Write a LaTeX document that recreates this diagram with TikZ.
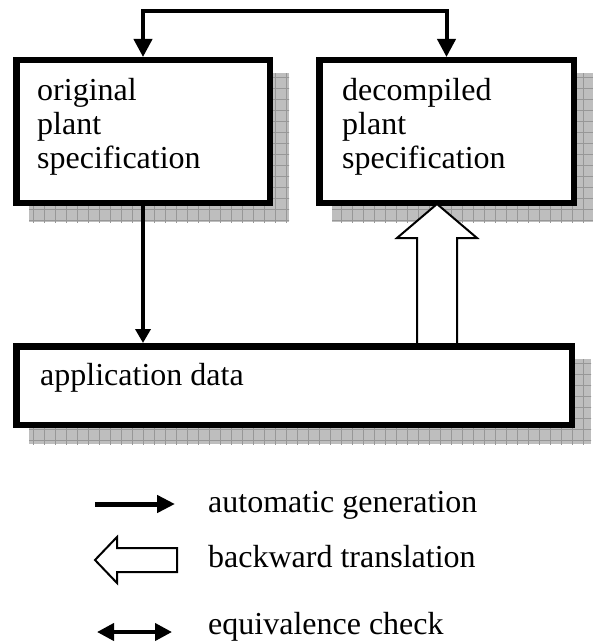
\documentclass[tikz,border=0pt]{standalone}
\usepackage{fontspec}
\setmainfont{Liberation Serif}
\usetikzlibrary{arrows.meta,calc}
\pgfdeclarelayer{background}
\pgfsetlayers{background,main}
\definecolor{shadefill}{HTML}{BEBEBE}
\definecolor{shadegrid}{HTML}{979797}
\begin{document}
\begin{tikzpicture}[x=1pt,y=-1pt,
  box/.style={draw=black,line width=6.5pt,fill=white,inner sep=0pt,
    minimum width=#1},
  lbl/.style={font=\fontsize{32}{34}\selectfont,align=left,inner sep=0pt},
  conn/.style={line width=4pt,line join=miter,
    arrows={-Triangle[width=18pt,length=18pt]}},
  hollow/.style={draw=black,line width=2pt,fill=white,line join=miter},
  gen/.style={line width=5pt,arrows={-Triangle[width=17pt,length=18pt]}},
  equiv/.style={line width=4pt,
    arrows={Triangle[width=17pt,length=17pt]-Triangle[width=17pt,length=17pt]}},
  shadow/.style={fill=shadefill}]
\useasboundingbox (0,0) rectangle (593,642);

% the three boxes
\node[box=253.5pt,minimum height=142.5pt] (orig) at (143,131.5) {};
\node[box=254.5pt,minimum height=142.5pt] (dec) at (446.5,131.5) {};
\node[box=555.5pt,minimum height=78.5pt] (app) at (294,385.5) {};

% box labels (base anchor = baseline of the last line)
\node[lbl,anchor=base west] (origtxt) at (37,168) {original\\plant\\specification};
\node[lbl,anchor=base west] (dectxt) at (342,168) {decompiled\\plant\\specification};
\node[lbl,anchor=base west] (apptxt) at (40,385) {application data};

% hatched drop shadows behind the boxes
\begin{pgfonlayer}{background}
  \foreach \b in {orig,dec,app}{
    \begin{scope}
      \clip ($(\b.north west)+(16,16)$) rectangle ($(\b.south east)+(16,16)$);
      \fill[shadow] ($(\b.north west)+(16,16)$) rectangle ($(\b.south east)+(16,16)$);
      \draw[shadegrid,line width=0.8pt] ($(\b.north west)+(5,5)$) grid[step=11pt]
        ($(\b.south east)+(20,20)$);
    \end{scope}
  }
\end{pgfonlayer}

% equivalence check between the two specifications
\coordinate (topy) at (0,11.5);
\draw[conn,arrows={Triangle[width=18pt,length=18pt]-Triangle[width=18pt,length=18pt]}]
  (orig.north) -- (orig.north |- topy) -- (dec.north |- topy) -- (dec.north);

% automatic generation
\draw[conn,arrows={-Triangle[width=15pt,length=14pt]}]
  (orig.south) -- (orig.south |- app.north);

% backward translation
\coordinate (bt) at ($(dec.south)+(-9.5,-2)$);
\coordinate (bb) at ($(bt |- app.north)+(0,1)$);
\draw[hollow] (bt) -- ($(bt)+(40,34)$) -- ($(bt)+(20,34)$) -- ($(bb)+(20,0)$)
  -- ($(bb)+(-20,0)$) -- ($(bt)+(-20,34)$) -- ($(bt)+(-40,34)$) -- cycle;

% legend
\coordinate (g1) at (95,504);
\coordinate (g2) at (175,504);
\draw[gen] (g1) -- (g2);
\node[lbl,anchor=base west] (gentxt) at (208,512) {automatic generation};

\coordinate (b1) at (95,560);
\draw[hollow] (b1) -- ($(b1)+(22,-23)$) -- ($(b1)+(22,-12)$) -- ($(b1)+(82,-12)$)
  -- ($(b1)+(82,12)$) -- ($(b1)+(22,12)$) -- ($(b1)+(22,23)$) -- cycle;
\node[lbl,anchor=base west] (bwtxt) at (208,567) {backward translation};

\coordinate (e1) at (97,632);
\coordinate (e2) at (172,632);
\draw[equiv] (e1) -- (e2);
\node[lbl,anchor=base west] (eqtxt) at (208,634) {equivalence check};
\end{tikzpicture}
\end{document}
